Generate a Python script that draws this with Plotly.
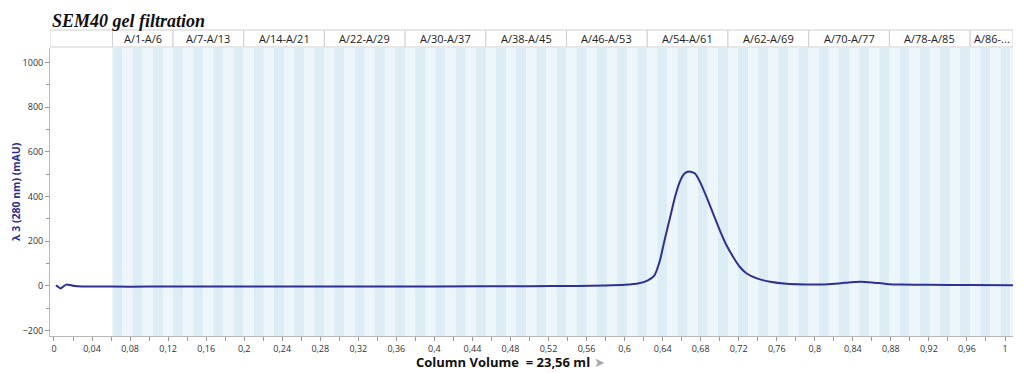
import plotly.graph_objects as go

# ---------------- data ----------------
cv = [0.002, 0.004, 0.007, 0.010, 0.013, 0.017, 0.022, 0.03, 0.06, 0.1, 0.2, 0.3, 0.4, 0.5,
      0.55, 0.58, 0.60, 0.615, 0.624, 0.631, 0.637, 0.642, 0.648, 0.653, 0.658, 0.663,
      0.668, 0.674, 0.679, 0.686, 0.693, 0.700, 0.707, 0.714, 0.721, 0.728, 0.739, 0.753,
      0.77, 0.79, 0.81, 0.825, 0.838, 0.848, 0.86, 0.875, 0.89, 0.92, 0.96, 1.01]
absorbance = [3, -3, -11, -2, 6, 4, 0, -2, -3, -3, -2, -2, -2, -1,
              0, 2, 5, 12, 24, 45, 112, 205, 310, 398, 466, 503,
              512, 503, 468, 400, 325, 250, 183, 131, 86, 57, 34, 19,
              10, 7, 7, 11, 17, 19, 16, 9, 6, 5, 4, 3]

frac_start = 0.0615       # CV where fraction A/1 begins
frac_width = 0.01061      # CV per fraction
n_fractions = 90
group_labels = ["A/1-A/6", "A/7-A/13", "A/14-A/21", "A/22-A/29", "A/30-A/37", "A/38-A/45",
                "A/46-A/53", "A/54-A/61", "A/62-A/69", "A/70-A/77", "A/78-A/85", "A/86-..."]
group_first = [1, 7, 14, 22, 30, 38, 46, 54, 62, 70, 78, 86]

x_tickvals = [round(0.04 * i, 2) for i in range(26)]
x_ticktext = ["0", "0,04", "0,08", "0,12", "0,16", "0,2", "0,24", "0,28", "0,32", "0,36",
              "0,4", "0,44", "0,48", "0,52", "0,56", "0,6", "0,64", "0,68", "0,72", "0,76",
              "0,8", "0,84", "0,88", "0,92", "0,96", "1"]
y_tickvals = [-200, 0, 200, 400, 600, 800, 1000]

# ---------------- figure ----------------
X0, X1 = -0.0042, 1.0084
Y0, Y1 = -224, 1065
LINE = "#2e3192"

fig = go.Figure()
fig.add_trace(go.Scatter(x=cv, y=absorbance, mode="lines",
                         line=dict(color=LINE, width=2, shape="spline", smoothing=0.6),
                         hoverinfo="skip", showlegend=False))

shapes = []
# fraction stripes
for i in range(n_fractions):
    a = frac_start + i * frac_width
    b = min(a + frac_width, X1)
    if a >= X1:
        break
    shapes.append(dict(type="rect", xref="x", yref="paper", x0=a, x1=b, y0=0, y1=1,
                       fillcolor="#dcedf6" if i % 2 == 0 else "#edf6fb",
                       line=dict(width=0), layer="below"))

# fraction label boxes above the plot
bt0, bt1 = 1.0035, 1.0625
box_line = dict(color="#cfcfcf", width=1)
shapes.append(dict(type="rect", xref="x", yref="paper", x0=X0, x1=frac_start,
                   y0=bt0, y1=bt1, fillcolor="white", line=box_line))
annotations = []
for k, lab in enumerate(group_labels):
    a = frac_start + (group_first[k] - 1) * frac_width
    b = frac_start + (group_first[k + 1] - 1) * frac_width if k + 1 < len(group_first) else X1
    shapes.append(dict(type="rect", xref="x", yref="paper", x0=a, x1=b, y0=bt0, y1=bt1,
                       fillcolor="white", line=box_line))
    annotations.append(dict(x=(a + b) / 2, y=(bt0 + bt1) / 2, xref="x", yref="paper",
                            text=lab, showarrow=False, xanchor="center", yanchor="middle",
                            font=dict(family="Open Sans", size=11, color="#222")))

annotations.append(dict(x=0.0, y=1.094, xref="paper", yref="paper", xanchor="left",
                        yanchor="middle", showarrow=False, align="left",
                        text="<b><i>SEM40 gel filtration</i></b>",
                        font=dict(family="Liberation Serif", size=18, color="#111")))
annotations.append(dict(x=-0.0353, y=0.5, xref="paper", yref="paper", textangle=-90,
                        xanchor="center", yanchor="middle", showarrow=False,
                        text="<b>λ 3 (280 nm) (mAU)</b>",
                        font=dict(family="Open Sans", size=10.5, color="#2b2f8f")))
annotations.append(dict(x=0.478, y=-0.09, xref="paper", yref="paper",
                        xanchor="center", yanchor="middle", showarrow=False,
                        text="<b>Column Volume&nbsp; = 23,56 ml</b> <span style='color:#a8a8a8'>➤</span>",
                        font=dict(family="Open Sans", size=13, color="#111")))

# the page adds an 8 px body margin; margins compensate so the plot area lands
# at the reference position (left 50, top 48, right 1013, bottom 336)
fig.update_layout(
    width=1024, height=373,
    margin=dict(l=42, r=19, t=40, b=45),
    paper_bgcolor="white", plot_bgcolor="white",
    shapes=shapes, annotations=annotations,
    showlegend=False,
    xaxis=dict(range=[X0, X1], showgrid=False, zeroline=False,
               showline=True, linecolor="#b8b8b8", linewidth=1,
               tickvals=x_tickvals, ticktext=x_ticktext,
               ticks="outside", ticklen=4, tickcolor="#999",
               minor=dict(dtick=0.02, tick0=0, ticks="outside", ticklen=4, tickcolor="#999"),
               tickfont=dict(family="Open Sans", size=9, color="#333")),
    yaxis=dict(range=[Y0, Y1], showgrid=False, zeroline=False,
               showline=True, linecolor="#b8b8b8", linewidth=1,
               tickvals=y_tickvals, ticks="outside", ticklen=4, tickcolor="#999",
               minor=dict(dtick=100, tick0=0, ticks="outside", ticklen=3, tickcolor="#999"),
               tickfont=dict(family="Open Sans", size=9, color="#333")),
)

fig.write_html("out.html")
